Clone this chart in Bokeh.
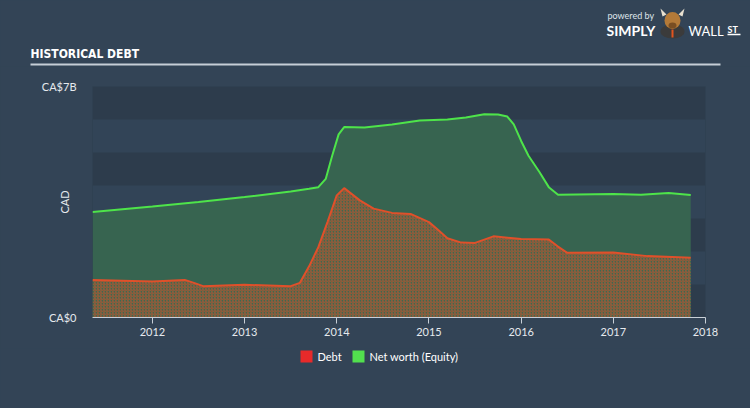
from bokeh.plotting import figure
from bokeh.models import Label, FixedTicker, Grid, ColumnDataSource, Range1d
from bokeh.layouts import column, row
from bokeh.embed import file_html
from bokeh.resources import INLINE

# Data (years as decimal, values in CAD billions)
equity_x = [2011.35, 2012.0, 2012.5, 2013.0, 2013.5, 2013.7, 2013.8, 2013.88, 2013.95, 2014.02, 2014.08, 2014.3,
            2014.6, 2014.9, 2015.2, 2015.4, 2015.6, 2015.75, 2015.85, 2015.92, 2016.0, 2016.08, 2016.2,
            2016.3, 2016.4, 2016.6, 2017.0, 2017.3, 2017.6, 2017.84]
equity_y = [3.20, 3.36, 3.50, 3.65, 3.82, 3.90, 3.95, 4.20, 4.90, 5.55, 5.77, 5.76,
            5.85, 5.97, 6.00, 6.06, 6.16, 6.15, 6.09, 5.85, 5.35, 4.90, 4.40,
            3.95, 3.72, 3.73, 3.74, 3.72, 3.77, 3.71]

debt_x = [2011.35, 2012.0, 2012.35, 2012.45, 2012.55, 2013.0, 2013.5, 2013.6, 2013.7, 2013.8, 2013.9, 2014.0, 2014.08,
          2014.25, 2014.4, 2014.6, 2014.8, 2015.0, 2015.1, 2015.2, 2015.35, 2015.5, 2015.7, 2016.0, 2016.3,
          2016.4, 2016.5, 2017.0, 2017.37, 2017.84]
debt_y = [1.14, 1.09, 1.14, 1.05, 0.95, 0.99, 0.95, 1.05, 1.55, 2.13, 2.90, 3.70, 3.92,
          3.55, 3.30, 3.17, 3.14, 2.89, 2.65, 2.40, 2.27, 2.26, 2.46, 2.38, 2.36,
          2.15, 1.96, 1.97, 1.86, 1.81]

y_ticks = [0, 7]
y_tick_labels = ["CA$0", "CA$7B"]
x_ticks = [2012, 2013, 2014, 2015, 2016, 2017, 2018]
legend_labels = ["Debt", "Net worth (Equity)"]
legend_colors = ["#e82a2a", "#52e04e"]

BG = "#334456"
BAND_LIGHT = "#324457"
BAND_DARK = "#2d3c4c"
W = 750
HEAD_H = 66
FOOT_H = 60
MAIN_H = 408 - HEAD_H - FOOT_H
COND = "'DejaVu Sans Condensed', 'Liberation Sans Narrow', Roboto, sans-serif"


def blank(h):
    f = figure(width=W, height=h, output_backend="svg", toolbar_location=None,
               x_range=Range1d(0, W), y_range=Range1d(h, 0),
               x_axis_location=None, y_axis_location=None,
               min_border=0, min_border_left=0, min_border_right=0,
               min_border_top=0, min_border_bottom=0)
    f.background_fill_color = BG
    f.border_fill_color = BG
    f.outline_line_color = None
    f.xgrid.visible = False
    f.ygrid.visible = False
    return f


# ---- header: title, rule, logo (page pixel coordinates)
head = blank(HEAD_H)
head.add_layout(Label(x=30, y=53, text="HISTORICAL DEBT", text_color="#ffffff",
                      text_font=COND, text_font_style="bold",
                      text_font_size="12px", text_baseline="alphabetic"))
head.segment(x0=[30], y0=[64], x1=[720], y1=[64], line_color="#c6ced6", line_width=2)
head.add_layout(Label(x=607, y=15, text="powered by", text_color="#dfe4ea",
                      text_font="Lato", text_font_size="9px", text_baseline="alphabetic"))
head.add_layout(Label(x=606, y=30, text="SIMPLY", text_color="#ffffff", text_font="Lato",
                      text_font_style="bold", text_font_size="14px", text_baseline="alphabetic"))
head.add_layout(Label(x=688, y=30, text="WALL", text_color="#ffffff", text_font="Lato",
                      text_font_size="13px", text_baseline="alphabetic"))
head.add_layout(Label(x=727, y=29, text="ST", text_color="#ffffff", text_font="Lato",
                      text_font_style="bold", text_font_size="9px", text_baseline="alphabetic"))
head.segment(x0=[727], y0=[34], x1=[740], y1=[34], line_color="#ffffff", line_width=1.5)
# simple mascot mark
head.ellipse(x=[672], y=[31], width=[24], height=[14], fill_color="#3b3b3b", line_color=None)
head.patches(xs=[[662, 660, 666], [682, 684, 678]], ys=[[16, 8, 14], [16, 8, 14]],
             fill_color="#e8e0d0", line_color=None)
head.ellipse(x=[672], y=[20], width=[16], height=[17], fill_color="#b47a38", line_color=None)
head.ellipse(x=[672], y=[25], width=[8], height=[6], fill_color="#7a4e22", line_color=None)
head.segment(x0=[672], y0=[29], x1=[672], y1=[37], line_color="#e2541e", line_width=2)

# ---- main chart
p = figure(width=W, height=MAIN_H, output_backend="svg", toolbar_location=None,
           x_range=Range1d(2011.35, 2018.0), y_range=Range1d(0, 7),
           min_border_left=92, min_border_right=45, min_border_top=86 - HEAD_H,
           min_border_bottom=MAIN_H - (317 - HEAD_H))
p.background_fill_color = BAND_DARK
p.border_fill_color = BG
p.outline_line_color = None
p.xgrid.visible = False
p.ygrid.visible = False

bands = Grid(dimension=1, ticker=FixedTicker(ticks=[0, 1, 2, 3, 4, 5, 6, 7]),
             grid_line_color=None, band_fill_color=BAND_LIGHT, band_fill_alpha=1.0)
p.add_layout(bands)

eq = ColumnDataSource(dict(x=equity_x, y=equity_y))
db = ColumnDataSource(dict(x=debt_x, y=debt_y))

p.varea(x="x", y1=0, y2="y", source=eq, fill_color="#386650", fill_alpha=0.95)
p.varea(x="x", y1=0, y2="y", source=db, fill_color="#3b6a50", fill_alpha=1.0,
        hatch_pattern="right_diagonal_line", hatch_color="#c8522c", hatch_scale=3,
        hatch_weight=1.1, hatch_alpha=0.65)
p.line(x="x", y="y", source=eq, line_color="#4ee44a", line_width=2)
p.line(x="x", y="y", source=db, line_color="#e0502a", line_width=2)

xa = p.xaxis[0]
xa.ticker = FixedTicker(ticks=x_ticks)
xa.axis_line_color = "#c8d0d8"
xa.major_tick_line_color = "#c8d0d8"
xa.major_tick_in = 0
xa.major_tick_out = 6
xa.minor_tick_line_color = None
xa.major_label_text_color = "#e6eaee"
xa.major_label_text_font = "Lato"
xa.major_label_text_font_size = "11px"
xa.major_label_standoff = 4

ya = p.yaxis[0]
ya.ticker = FixedTicker(ticks=y_ticks)
ya.major_label_overrides = {t: l for t, l in zip(y_ticks, y_tick_labels)}
ya.axis_line_color = None
ya.major_tick_line_color = None
ya.minor_tick_line_color = None
ya.major_label_text_color = "#e6eaee"
ya.major_label_text_font = "Lato"
ya.major_label_text_font_size = "11px"
ya.major_label_standoff = 10
ya.axis_label = "CAD"
ya.axis_label_text_color = "#e6eaee"
ya.axis_label_text_font = "Lato"
ya.axis_label_text_font_style = "normal"
ya.axis_label_text_font_size = "11px"
ya.axis_label_standoff = -32

# ---- footer: legend
foot = blank(FOOT_H)
foot_top = HEAD_H + MAIN_H
sw_x = [300, 352]
txt_x = [317, 369]
for i in range(len(legend_labels)):
    foot.rect(x=[sw_x[i] + 6], y=[356 - foot_top], width=12, height=12,
              fill_color=legend_colors[i], line_color=None)
    foot.add_layout(Label(x=txt_x[i], y=356 - foot_top, text=legend_labels[i],
                          text_color="#ffffff", text_font="Lato", text_font_size="11px",
                          text_baseline="middle"))

layout = column(row(head), p, row(foot), spacing=0)
layout.styles = {"background-color": BG}
open("out.html", "w").write(file_html(layout, INLINE))
